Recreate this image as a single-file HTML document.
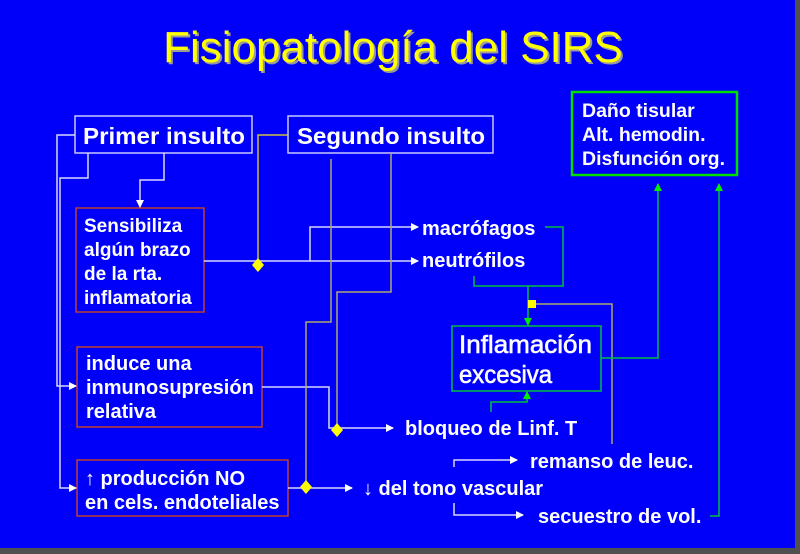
<!DOCTYPE html>
<html><head><meta charset="utf-8"><style>
html,body{margin:0;padding:0;background:#555;}
svg{display:block;}
text{font-family:"Liberation Sans",Arial,sans-serif;font-weight:bold;fill:#fff;}
</style></head><body>
<svg width="800" height="554" viewBox="0 0 800 554" xmlns="http://www.w3.org/2000/svg">
<defs>
<marker id="aw" markerWidth="8" markerHeight="8" refX="7" refY="4" orient="auto" markerUnits="userSpaceOnUse"><path d="M0,0 L8,4 L0,8 z" fill="#fff"/></marker>
<marker id="ag" markerWidth="8" markerHeight="8" refX="7" refY="4" orient="auto" markerUnits="userSpaceOnUse"><path d="M0,0 L8,4 L0,8 z" fill="#00ee00"/></marker>
</defs>
<rect x="0" y="0" width="800" height="554" fill="#505050"/>
<rect x="0" y="0" width="795" height="548" fill="#0000fa"/>
<text x="393" y="62" text-anchor="middle" font-size="44" style="fill:#9a9a9a;font-weight:normal" transform="translate(2,2)">Fisiopatología del SIRS</text>
<text x="393" y="62" text-anchor="middle" font-size="44" style="fill:#ffff00;font-weight:normal">Fisiopatología del SIRS</text>

<g fill="none" stroke-width="1.5">
<rect x="75" y="116" width="177" height="37" stroke="#c8c8ff"/>
<rect x="288" y="116" width="205" height="37" stroke="#c8c8ff"/>
<rect x="76" y="208" width="128" height="104" stroke="#c04030"/>
<rect x="77" y="347" width="185" height="80" stroke="#c04030"/>
<rect x="77" y="460" width="211" height="56" stroke="#c04030"/>
<rect x="572" y="92" width="165" height="83" stroke="#00e000" stroke-width="2.5"/>
<rect x="452" y="326" width="149" height="65" stroke="#00c040"/>

<g stroke="#d8d8ff">
<polyline points="75,135 57,135 57,386 76,386" marker-end="url(#aw)"/>
<polyline points="88,153 88,178 60,178 60,488 76,488" marker-end="url(#aw)"/>
<polyline points="164,153 164,180 140,180 140,207" marker-end="url(#aw)"/>
<polyline points="204,261 418,261" marker-end="url(#aw)"/>
<polyline points="310,261 310,227 418,227" marker-end="url(#aw)"/>
<polyline points="262,387 329,387 329,428 337,428 393,428" marker-end="url(#aw)"/>
<polyline points="288,488 352,488" marker-end="url(#aw)"/>
<polyline points="454,467 454,460 517,460" marker-end="url(#aw)"/>
<polyline points="454,503 454,515 523,515" marker-end="url(#aw)"/>
</g>
<g stroke="#b0a870">
<polyline points="288,135 258,135 258,264" stroke="#d0c040"/>
<polyline points="331,159 331,322 306,322 306,487"/>
<polyline points="391,153 391,292 337,292 337,430"/>
<polyline points="612,444 612,304 532,304"/>
</g>
<g stroke="#00c040">
<polyline points="545,227 563,227 563,286 474,286 474,276"/>
<polyline points="528,286 528,325" marker-end="url(#ag)"/>
<polyline points="601,358 658,358 658,184" marker-end="url(#ag)"/>
<polyline points="710,516 719,516 719,184" marker-end="url(#ag)"/>
<polyline points="491,412 491,402 527,402 527,392" marker-end="url(#ag)"/>
</g>
</g>
<g fill="#ffff00">
<path d="M258,258 L264,265 L258,272 L252,265 z"/>
<path d="M337,423 L343,430 L337,437 L331,430 z"/>
<path d="M306,480 L312,487 L306,494 L300,487 z"/>
<rect x="528" y="300" width="8" height="8"/>
</g>

<text x="83" y="144" font-size="23" textLength="162" lengthAdjust="spacingAndGlyphs">Primer insulto</text>
<text x="297" y="144" font-size="23" textLength="188" lengthAdjust="spacingAndGlyphs">Segundo insulto</text>
<g font-size="19">
<text x="84" y="232">Sensibiliza</text>
<text x="84" y="256">algún brazo</text>
<text x="84" y="280">de la rta.</text>
<text x="84" y="304">inflamatoria</text>
</g>
<g font-size="19.5">
<text x="582" y="117">Daño tisular</text>
<text x="582" y="141">Alt. hemodin.</text>
<text x="582" y="165">Disfunción org.</text>
</g>
<g font-size="20">
<text x="422" y="235">macrófagos</text>
<text x="422" y="267">neutrófilos</text>
<text x="86" y="370">induce una</text>
<text x="86" y="394">inmunosupresión</text>
<text x="86" y="418">relativa</text>
<text x="85" y="485">↑ producción NO</text>
<text x="85" y="509">en cels. endoteliales</text>
<text x="405" y="435">bloqueo de Linf. T</text>
<text x="530" y="468">remanso de leuc.</text>
<text x="363" y="495">↓ del tono vascular</text>
<text x="538" y="523">secuestro de vol.</text>
</g>
<text x="459" y="353" font-size="25" textLength="133" lengthAdjust="spacingAndGlyphs" style="font-weight:normal;stroke:#fff;stroke-width:0.6">Inflamación</text>
<text x="459" y="383" font-size="25" textLength="93" lengthAdjust="spacingAndGlyphs" style="font-weight:normal;stroke:#fff;stroke-width:0.6">excesiva</text>
</svg>
</body></html>
